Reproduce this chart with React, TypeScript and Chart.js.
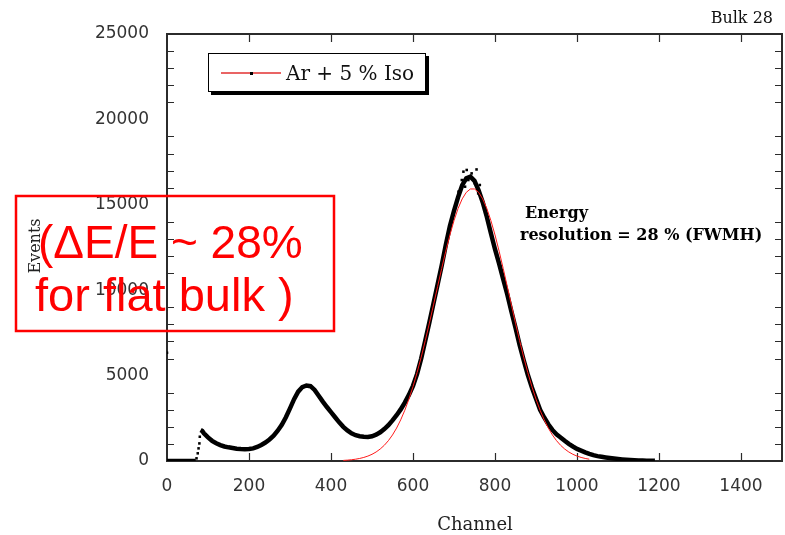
import React, { useEffect, useRef } from "react";
import { Chart, registerables } from "chart.js";

Chart.register(...registerables);

// ---- data ----
const xTickValues = [0, 200, 400, 600, 800, 1000, 1200, 1400];
const yTickValues = [0, 5000, 10000, 15000, 20000, 25000];

// measured spectrum (black points); null marks the break at the threshold jump
const channels = [
  0, 10, 20, 30, 40, 50, 60, 70, 76, 82, 86, 90, 100, 110, 120, 130, 140, 150, 160, 170, 180, 190,
  200, 210, 220, 230, 240, 250, 260, 270, 280, 290, 300, 310, 320, 330, 340, 350, 360, 370, 380, 390,
  400, 410, 420, 430, 440, 450, 460, 470, 480, 490, 500, 510, 520, 530, 540, 550, 560, 570, 580, 590,
  600, 610, 620, 630, 640, 650, 660, 670, 680, 690, 700, 710, 720, 730, 740, 750, 760, 770, 780, 790,
  800, 810, 820, 830, 840, 850, 860, 870, 880, 890, 900, 910, 920, 930, 940, 950, 960, 970, 980, 990,
  1000, 1010, 1020, 1030, 1040, 1050, 1060, 1070, 1080, 1090, 1100, 1110, 1120, 1130, 1140, 1150,
  1160, 1170, 1180, 1190,
];
const events = [
  0, 0, 0, 0, 0, 0, 0, 0, null, 1815, 1760, 1620, 1380, 1180, 1040, 930, 850, 800, 760, 720, 700, 690,
  700, 740, 820, 940, 1080, 1260, 1480, 1770, 2120, 2560, 3080, 3620, 4060, 4330, 4420, 4380, 4160, 3820, 3480, 3160,
  2860, 2560, 2260, 2000, 1790, 1620, 1510, 1450, 1420, 1410, 1450, 1540, 1680, 1870, 2100, 2380, 2680, 3020, 3420, 3870,
  4400, 5100, 6000, 7050, 8120, 9230, 10330, 11450, 12650, 13750, 14650, 15450, 16150, 16550, 16650, 16400, 15850, 15150, 14300, 13330,
  12400, 11550, 10650, 9750, 8750, 7800, 6800, 5900, 5050, 4300, 3650, 3000, 2550, 2150, 1820, 1560, 1380, 1180, 1000, 850,
  710, 610, 510, 420, 340, 285, 245, 210, 180, 150, 120, 95, 75, 58, 45, 35,
  28, 20, 15, 10,
];

// isolated points: threshold rise, scatter at the peak top, stray point on the axis
const dotChannels = [72, 75, 77, 79, 80, 711, 719, 723, 727, 731, 735, 743, 751, 755, 759, 763, 0];
const dotEvents = [156, 450, 740, 1030, 1420, 15770, 16450, 16940, 16060, 17040, 16450, 16840, 16260, 17070, 15670, 16160, 6340];

// Gaussian fit (red line)
const fitChannels = [
  430, 440, 450, 460, 470, 480, 490, 500, 510, 520, 530, 540, 550, 560, 570, 580, 590, 600, 610, 620,
  630, 640, 650, 660, 670, 680, 690, 700, 710, 720, 730, 740, 750, 760, 770, 780, 790, 800, 810, 820,
  830, 840, 850, 860, 870, 880, 890, 900, 910, 920, 930, 940, 950, 960, 970, 980, 990, 1000, 1010, 1020, 1030,
];
const fitEvents = [
  35, 51, 74, 106, 150, 209, 288, 392, 527, 701, 920, 1192, 1526, 1928, 2409, 2970, 3621, 4356, 5179, 6080,
  7050, 8075, 9138, 10211, 11272, 12288, 13234, 14076, 14789, 15346, 15730, 15926, 15926, 15730, 15346, 14789, 14076, 13234, 12288, 11272,
  10211, 9138, 8075, 7050, 6080, 5179, 4356, 3621, 2970, 2409, 1928, 1526, 1192, 920, 701, 527, 392, 288, 209, 150, 106,
];

const legendLabel = "Ar + 5 % Iso";
const cornerLabel = "Bulk 28";
const xTitle = "Channel";
const yTitle = "Events";
const noteLine1 = "Energy";
const noteLine2 = "resolution = 28 % (FWMH)";
const boxLine1 = "(\u0394E/E ~ 28%";
const boxLine2 = "for flat bulk )";

const toPoints = (xs: number[], ys: (number | null)[]) => xs.map((x, i) => ({ x, y: ys[i] }));

const decorPlugin = {
  id: "decor",
  beforeDatasetsDraw(chart: any) {
    const { ctx, chartArea: a, scales } = chart;
    const xs = scales.x;
    const ys = scales.y;
    ctx.save();
    ctx.strokeStyle = "#2b2b2b";
    ctx.lineWidth = 2;
    ctx.strokeRect(a.left, a.top, a.right - a.left, a.bottom - a.top);
    ctx.lineWidth = 1.2;
    ctx.beginPath();
    for (let v = 1000; v < 25000; v += 1000) {
      if (v % 5000 === 0) continue;
      const y = Math.round(ys.getPixelForValue(v)) + 0.5;
      ctx.moveTo(a.left, y);
      ctx.lineTo(a.left + 7, y);
      ctx.moveTo(a.right, y);
      ctx.lineTo(a.right - 7, y);
    }
    for (const v of xTickValues) {
      if (v === 0) continue;
      const x = Math.round(xs.getPixelForValue(v)) + 0.5;
      ctx.moveTo(x, a.bottom);
      ctx.lineTo(x, a.bottom - 8);
      ctx.moveTo(x, a.top);
      ctx.lineTo(x, a.top + 8);
    }
    ctx.stroke();
    ctx.restore();
  },
  afterDraw(chart: any) {
    const { ctx } = chart;
    ctx.save();
    // legend box with shadow
    ctx.fillStyle = "#000";
    ctx.fillRect(211, 56, 218, 39);
    ctx.fillStyle = "#fff";
    ctx.fillRect(208, 53, 218, 39);
    ctx.strokeStyle = "#000";
    ctx.lineWidth = 1;
    ctx.strokeRect(208.5, 53.5, 217, 38);
    ctx.strokeStyle = "#e23030";
    ctx.lineWidth = 1.5;
    ctx.beginPath();
    ctx.moveTo(221, 73);
    ctx.lineTo(281, 73);
    ctx.stroke();
    ctx.fillStyle = "#000";
    ctx.fillRect(250, 72, 3, 3);
    ctx.fillStyle = "#111";
    ctx.font = "20px 'DejaVu Serif'";
    ctx.textBaseline = "alphabetic";
    ctx.textAlign = "left";
    ctx.fillText(legendLabel, 286, 80);

    // corner label
    ctx.font = "16px 'DejaVu Serif'";
    ctx.textAlign = "right";
    ctx.fillText(cornerLabel, 773, 23);

    // x title
    ctx.textAlign = "center";
    ctx.font = "18px 'DejaVu Serif'";
    ctx.fillStyle = "#222";
    ctx.fillText(xTitle, 475, 530);

    // y title rotated
    ctx.save();
    ctx.translate(40, 246);
    ctx.rotate(-Math.PI / 2);
    ctx.font = "16px 'DejaVu Serif'";
    ctx.textAlign = "center";
    ctx.fillText(yTitle, 0, 0);
    ctx.restore();

    // energy resolution note
    ctx.fillStyle = "#000";
    ctx.textAlign = "left";
    ctx.font = "bold 16px 'DejaVu Serif'";
    ctx.fillText(noteLine1, 525, 218);
    ctx.fillText(noteLine2, 520, 240);

    // red overlay box
    ctx.strokeStyle = "#ff0000";
    ctx.lineWidth = 2.5;
    ctx.strokeRect(16, 196, 318, 135);
    ctx.fillStyle = "#ff0000";
    ctx.font = "46px 'Liberation Sans'";
    ctx.fillText(boxLine1, 38, 258);
    ctx.font = "47px 'Liberation Sans'";
    ctx.fillText(boxLine2, 35, 311);
    ctx.restore();
  },
};

export default function App() {
  const ref = useRef<HTMLCanvasElement | null>(null);

  useEffect(() => {
    if (!ref.current) return;
    const chart = new Chart(ref.current, {
      type: "scatter",
      data: {
        datasets: [
          {
            label: "fit",
            data: toPoints(fitChannels, fitEvents),
            showLine: true,
            borderColor: "#ff1a1a",
            borderWidth: 1,
            pointRadius: 0,
            order: 0,
          },
          {
            label: legendLabel,
            data: toPoints(channels, events),
            showLine: true,
            spanGaps: false,
            borderColor: "#000",
            backgroundColor: "#000",
            borderWidth: 4.5,
            pointRadius: 0,
            order: 1,
          },
          {
            label: "dots",
            data: toPoints(dotChannels, dotEvents),
            borderColor: "#000",
            backgroundColor: "#000",
            pointRadius: 1.8,
            pointStyle: "rect",
            borderWidth: 0,
            order: 2,
          },
        ],
      },
      options: {
        animation: false,
        responsive: false,
        devicePixelRatio: 1,
        layout: { autoPadding: false, padding: { top: 34, right: 3, left: 0, bottom: 0 } },
        plugins: { legend: { display: false }, tooltip: { enabled: false } },
        scales: {
          x: {
            type: "linear",
            min: 0,
            max: 1500,
            grid: { display: false, drawTicks: false },
            border: { display: false },
            afterBuildTicks: (s: any) => {
              s.ticks = xTickValues.map((v) => ({ value: v }));
            },
            afterFit: (s: any) => {
              s.height = 74;
              s.paddingLeft = 0;
              s.paddingRight = 0;
            },
            ticks: {
              padding: 15,
              maxRotation: 0,
              autoSkip: false,
              color: "#333",
              font: { family: "'DejaVu Sans'", size: 17 },
              callback: (v: any) => String(v),
            },
          },
          y: {
            type: "linear",
            min: 0,
            max: 25000,
            grid: { display: false, drawTicks: false },
            border: { display: false },
            afterBuildTicks: (s: any) => {
              s.ticks = yTickValues.map((v) => ({ value: v }));
            },
            afterFit: (s: any) => {
              s.width = 167;
              s.paddingTop = 0;
              s.paddingBottom = 0;
            },
            ticks: {
              padding: 18,
              autoSkip: false,
              color: "#333",
              font: { family: "'DejaVu Sans'", size: 17 },
              callback: (v: any) => String(v),
            },
          },
        },
      },
      plugins: [decorPlugin],
    });
    return () => chart.destroy();
  }, []);

  return (
    <div style={{ position: "fixed", left: 0, top: 0, width: 785, height: 535, background: "#fff" }}>
      <canvas ref={ref} width={785} height={535} style={{ display: "block", width: 785, height: 535 }} />
    </div>
  );
}
